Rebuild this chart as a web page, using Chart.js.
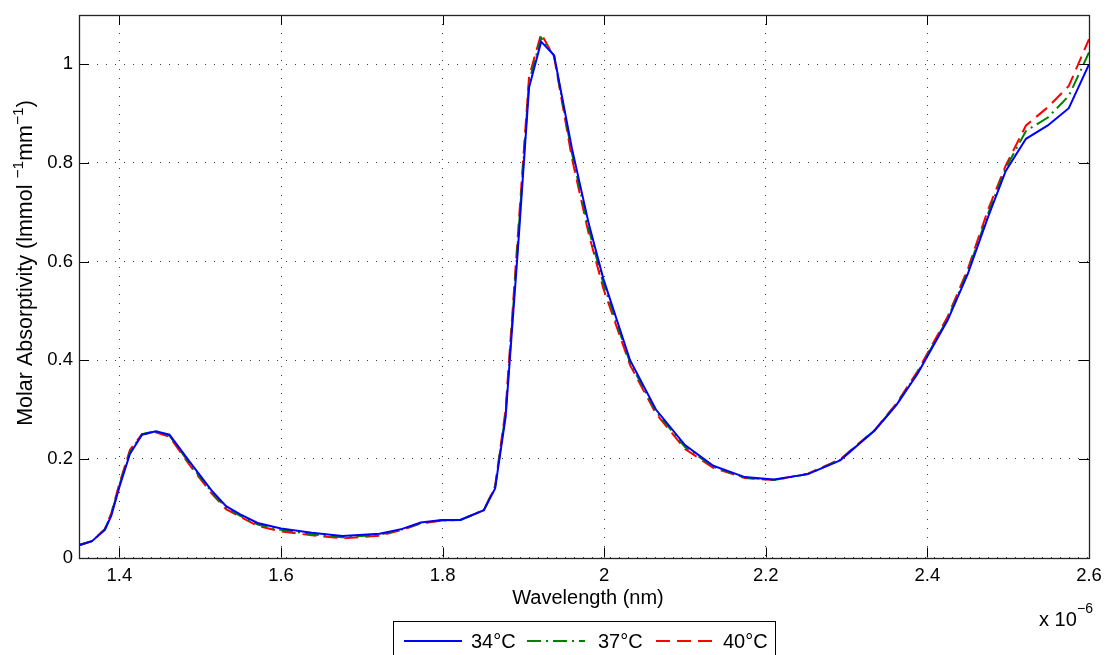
<!DOCTYPE html>
<html>
<head>
<meta charset="utf-8">
<script src="https://cdn.jsdelivr.net/npm/chart.js@4"></script>
<style>
  body { margin: 0; background: #fff; }
  #wrap { width: 1107px; height: 655px; position: relative; }
</style>
</head>
<body>
<div id="wrap"><canvas id="grafico"></canvas></div>
<script>
// comprimentos de onda (x 10^-6)
const wavelength = [1.350, 1.366, 1.382, 1.390, 1.400, 1.413, 1.428, 1.445, 1.462, 1.488,
  1.514, 1.532, 1.549, 1.571, 1.600, 1.638, 1.676, 1.722, 1.750, 1.773,
  1.799, 1.822, 1.851, 1.865, 1.878, 1.893, 1.907, 1.922, 1.938, 1.960,
  1.981, 1.999, 2.032, 2.064, 2.100, 2.135, 2.174, 2.210, 2.252, 2.292,
  2.335, 2.362, 2.388, 2.425, 2.450, 2.475, 2.497, 2.522, 2.549, 2.575, 2.600];

const abs34 = [0.025, 0.033, 0.056, 0.085, 0.143, 0.210, 0.249, 0.256, 0.249, 0.192,
  0.136, 0.104, 0.088, 0.070, 0.059, 0.050, 0.0435, 0.048, 0.058, 0.071,
  0.076, 0.076, 0.096, 0.140, 0.285, 0.620, 0.953, 1.046, 1.018, 0.830,
  0.676, 0.565, 0.400, 0.300, 0.228, 0.186, 0.163, 0.158, 0.169, 0.197,
  0.258, 0.310, 0.373, 0.481, 0.575, 0.690, 0.784, 0.849, 0.876, 0.911, 1.000];

const abs37 = [0.025, 0.033, 0.057, 0.088, 0.147, 0.214, 0.250, 0.256, 0.247, 0.188,
  0.133, 0.101, 0.085, 0.067, 0.056, 0.047, 0.041, 0.046, 0.057, 0.070,
  0.075, 0.076, 0.096, 0.142, 0.292, 0.635, 0.965, 1.054, 1.017, 0.820,
  0.665, 0.555, 0.395, 0.296, 0.224, 0.184, 0.162, 0.157, 0.169, 0.198,
  0.258, 0.311, 0.375, 0.484, 0.580, 0.697, 0.790, 0.865, 0.892, 0.936, 1.024];

const abs40 = [0.025, 0.033, 0.058, 0.090, 0.150, 0.218, 0.250, 0.254, 0.245, 0.185,
  0.130, 0.098, 0.083, 0.064, 0.053, 0.045, 0.039, 0.044, 0.056, 0.069,
  0.075, 0.076, 0.096, 0.145, 0.300, 0.650, 0.975, 1.062, 1.015, 0.810,
  0.655, 0.545, 0.390, 0.292, 0.220, 0.182, 0.161, 0.157, 0.170, 0.199,
  0.259, 0.313, 0.378, 0.488, 0.585, 0.705, 0.795, 0.876, 0.913, 0.956, 1.051];

const legendas = ['34\u00b0C', '37\u00b0C', '40\u00b0C'];
const xTicks = [1.4, 1.6, 1.8, 2.0, 2.2, 2.4, 2.6];
const yTicks = [0, 0.2, 0.4, 0.6, 0.8, 1.0];

const fonte = "'Liberation Sans', Arial, sans-serif";
const cores = ['#0000ff', '#008000', '#ff0000'];
const tracos = [[], [14, 5, 2, 5], [14, 7]];

function pontos(ys) {
  return wavelength.map((x, i) => ({ x: x, y: ys[i] }));
}

// Moldura, marcas internas, títulos e legenda
const molduraPlugin = {
  id: 'moldura',
  afterDraw(chart) {
    const ctx = chart.ctx;
    const a = chart.chartArea;
    const sx = chart.scales.x, sy = chart.scales.y;
    ctx.save();
    ctx.strokeStyle = '#000';
    ctx.lineWidth = 1;
    // marcas
    ctx.beginPath();
    xTicks.forEach(v => {
      const px = Math.round(sx.getPixelForValue(v)) + 0.5;
      ctx.moveTo(px, a.bottom); ctx.lineTo(px, a.bottom - 10);
      ctx.moveTo(px, a.top); ctx.lineTo(px, a.top + 10);
    });
    yTicks.forEach(v => {
      const py = Math.round(sy.getPixelForValue(v)) + 0.5;
      ctx.moveTo(a.left, py); ctx.lineTo(a.left + 10, py);
      ctx.moveTo(a.right, py); ctx.lineTo(a.right - 10, py);
    });
    ctx.stroke();
    ctx.strokeStyle = '#222';
    ctx.lineWidth = 1.3;
    ctx.strokeRect(Math.round(a.left) + 0.5, Math.round(a.top) + 0.5,
      Math.round(a.right - a.left), Math.round(a.bottom - a.top));

    ctx.fillStyle = '#000';
    ctx.font = '20px ' + fonte;
    // título do eixo x
    ctx.textAlign = 'center';
    ctx.textBaseline = 'middle';
    ctx.fillText('Wavelength (nm)', 588, 598);
    // x 10^-6
    ctx.textAlign = 'left';
    ctx.textBaseline = 'alphabetic';
    ctx.fillText('x 10', 1039, 626);
    ctx.font = '14px ' + fonte;
    ctx.fillText('\u22126', 1077, 613);

    // título do eixo y com expoentes
    ctx.save();
    ctx.translate(32, 263);
    ctx.rotate(-Math.PI / 2);
    const partes = [['Molar Absorptivity (lmmol ', false], ['\u22121', true], ['mm', false], ['\u22121', true], [')', false]];
    const fy = p => (p[1] ? '15.5px ' : '21.5px ') + fonte;
    let total = 0;
    partes.forEach(p => {
      ctx.font = fy(p);
      total += ctx.measureText(p[0]).width;
    });
    let cx = -total / 2;
    partes.forEach(p => {
      ctx.font = fy(p);
      ctx.fillText(p[0], cx, p[1] ? -9 : 0);
      cx += ctx.measureText(p[0]).width;
    });
    ctx.restore();

    // legenda
    ctx.fillStyle = '#fff';
    ctx.fillRect(393, 621, 382, 40);
    ctx.strokeStyle = '#000';
    ctx.lineWidth = 1;
    ctx.strokeRect(393.5, 621.5, 382, 40);
    const linhaX = [404, 527, 656];
    const textoX = [471, 598, 723];
    ctx.font = '20px ' + fonte;
    ctx.textBaseline = 'middle';
    ctx.textAlign = 'left';
    legendas.forEach((t, i) => {
      ctx.strokeStyle = cores[i];
      ctx.lineWidth = 2;
      ctx.setLineDash(tracos[i]);
      ctx.beginPath();
      ctx.moveTo(linhaX[i], 641);
      ctx.lineTo(linhaX[i] + 58, 641);
      ctx.stroke();
      ctx.setLineDash([]);
      ctx.fillStyle = '#000';
      ctx.fillText(t, textoX[i], 642);
    });
    ctx.restore();
  }
};

const ctxGrafico = document.getElementById('grafico').getContext('2d');
const chart = new Chart(ctxGrafico, {
  type: 'line',
  data: {
    datasets: [
      { label: legendas[0], data: pontos(abs34), borderColor: cores[0], borderDash: tracos[0], borderWidth: 2, order: 1 },
      { label: legendas[1], data: pontos(abs37), borderColor: cores[1], borderDash: tracos[1], borderWidth: 2, order: 2 },
      { label: legendas[2], data: pontos(abs40), borderColor: cores[2], borderDash: tracos[2], borderWidth: 2, order: 3 }
    ]
  },
  options: {
    responsive: true,
    maintainAspectRatio: false,
    animation: false,
    elements: { point: { radius: 0 }, line: { tension: 0, fill: false } },
    layout: { padding: { left: 0, top: 15, right: 18, bottom: 0 } },
    plugins: { legend: { display: false }, tooltip: { enabled: false } },
    scales: {
      x: {
        type: 'linear',
        min: 1.35,
        max: 2.6,
        afterBuildTicks: s => { s.ticks = xTicks.map(v => ({ value: v })); },
        afterFit: s => { s.height = 97.5; s.paddingLeft = 0; s.paddingRight = 0; },
        ticks: {
          color: '#000',
          font: { family: fonte, size: 18.5 },
          padding: 7,
          maxRotation: 0,
          callback: v => String(Number(v.toFixed(1)))
        },
        grid: { color: 'rgba(0,0,0,0.75)', lineWidth: 1, drawTicks: false },
        border: { display: false, dash: [1, 8] }
      },
      y: {
        min: 0,
        max: 1.1,
        afterBuildTicks: s => { s.ticks = yTicks.map(v => ({ value: v })); },
        afterFit: s => { s.width = 79; s.paddingTop = 0; s.paddingBottom = 0; },
        ticks: {
          color: '#000',
          font: { family: fonte, size: 18.5 },
          padding: 6,
          callback: v => String(Number(v.toFixed(1)))
        },
        grid: { color: 'rgba(0,0,0,0.75)', lineWidth: 1, drawTicks: false },
        border: { display: false, dash: [1, 8] }
      }
    }
  },
  plugins: [molduraPlugin]
});
</script>
</body>
</html>
